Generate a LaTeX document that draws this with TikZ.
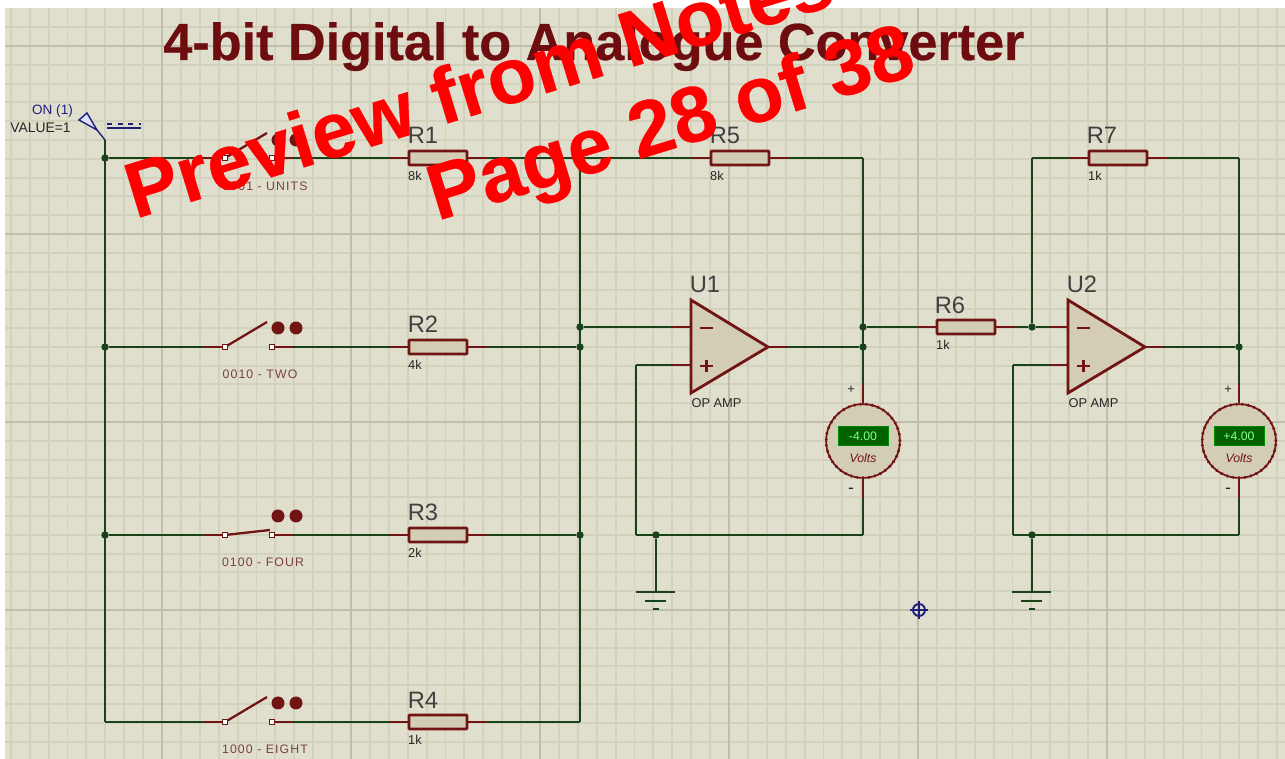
\documentclass[tikz,border=0pt]{standalone}
\usepackage{fontspec}
\setmainfont{Liberation Sans}
\definecolor{sheet}{HTML}{E0DFCE}
\definecolor{minorline}{HTML}{D2D1BC}
\definecolor{majorline}{HTML}{BFBEA9}
\definecolor{wirecol}{HTML}{17421A}
\definecolor{partcol}{HTML}{701414}
\definecolor{partfill}{HTML}{D3CDB5}
\definecolor{probecol}{HTML}{1F1F7A}
\definecolor{titlecol}{HTML}{6E0D10}
\tikzset{
  wire/.style={draw=wirecol,line width=1.4pt},
  pinline/.style={draw=partcol,line width=1.3pt},
  dot/.style={circle,fill=wirecol,inner sep=0pt,minimum size=4.2pt},
  corner/.style={inner sep=0pt,minimum size=0pt},
  resistor/.style={rectangle,draw=partcol,fill=partfill,line width=1.6pt,rounded corners=0.5pt,
    minimum width=33pt,minimum height=8pt,inner sep=0pt},
  contact/.style={rectangle,draw=partcol,fill=white,line width=0.5pt,inner sep=0pt,minimum size=2.4pt},
  lamp/.style={circle,fill=partcol,inner sep=0pt,minimum size=7.4pt},
  meter/.style={circle,draw=partcol,fill=partfill,line width=1pt,minimum size=42pt,inner sep=0pt,
    postaction={draw=partcol,line width=1.6pt,dash pattern=on 0.8pt off 2.6pt}},
  screen/.style={rectangle,fill=green!38!black,draw=green!55!black,line width=0.5pt,minimum width=28.5pt,
    minimum height=11pt,inner sep=0pt,text=green!45!white,font=\fontsize{7}{8}\selectfont},
  opamp/.style={draw=partcol,fill=partfill,line width=1.6pt,line join=miter},
  bigtext/.style={text=titlecol,font=\bfseries\addfontfeature{FakeBold=0.5}\fontsize{29.7}{32}\selectfont,inner sep=0pt,anchor=base west},
  stamp/.style={text=red,font=\bfseries\addfontfeature{FakeBold=0.4}\fontsize{44.8}{48}\selectfont,inner sep=0pt,anchor=base west,rotate=17},
  partname/.style={text=black!75,font=\fontsize{13.5}{15}\selectfont,inner sep=0pt},
  tinytext/.style={text=black!85,font=\fontsize{7.3}{8}\selectfont,inner sep=0pt},
  swlabel/.style={text=partcol!80!black!80,font=\addfontfeature{LetterSpace=9}\fontsize{7}{8}\selectfont,inner sep=0pt},
}
\begin{document}
\begin{tikzpicture}[x=0.02cm,y=-0.02cm]
  \clip (0,0) rectangle (1285,759);
  \fill[sheet] (5,8) rectangle (1285,759);
  \foreach \k in {0,...,67} {
    \draw[minorline,line width=1.1pt] ({10.8+18.9*\k},8) to ({10.8+18.9*\k},759);
  }
  \foreach \k in {0,...,39} {
    \draw[minorline,line width=1.1pt] (5,{27.2+18.8*\k}) to (1285,{27.2+18.8*\k});
  }
  \foreach \k in {0,...,6} {
    \draw[majorline,line width=1.2pt] ({162+189*\k},8) to ({162+189*\k},759);
  }
  \foreach \k in {0,...,3} {
    \draw[majorline,line width=1.2pt] (5,{46+188*\k}) to (1285,{46+188*\k});
  }
  % probe crosshair
  \draw[probecol,line width=1.1pt] (919,610) circle (6);
  \draw[probecol,line width=1.1pt] (910,610) to (928,610);
  \draw[probecol,line width=1.1pt] (919,601) to (919,619);
  % junctions and corners
  \draw
    (105,140) node[corner] (top){}
    (105,158) node[dot] (a1){}
    (105,347) node[dot] (a2){}
    (105,535) node[dot] (a3){}
    (105,722) node[corner] (a4){}
    (580,158) node[dot] (b1){}
    (580,327) node[dot] (b0){}
    (580,347) node[dot] (b2){}
    (580,535) node[dot] (b3){}
    (580,722) node[corner] (b4){}
    (863,158) node[corner] (c1){}
    (863,327) node[dot] (c2){}
    (863,347) node[dot] (c3){}
    (863,535) node[corner] (c4){}
    (636,535) node[corner] (d1){}
    (656,535) node[dot] (d2){}
    (636,365) node[corner] (d3){}
    (656,592) node[corner] (g1){}
    (1032,158) node[corner] (e1){}
    (1032,327) node[dot] (e2){}
    (1239,158) node[corner] (f1){}
    (1239,347) node[dot] (f2){}
    (1239,535) node[corner] (f3){}
    (1013,535) node[corner] (h1){}
    (1032,535) node[dot] (h2){}
    (1013,365) node[corner] (h3){}
    (1032,592) node[corner] (g2){}
    (691,327) node[corner] (u1m){}
    (691,365) node[corner] (u1p){}
    (768,347) node[corner] (u1o){}
    (1068,327) node[corner] (u2m){}
    (1068,365) node[corner] (u2p){}
    (1145,347) node[corner] (u2o){};
  % parts
  \draw
    (438,158) node[resistor] (R1){}
    (438,347) node[resistor] (R2){}
    (438,535) node[resistor] (R3){}
    (438,722) node[resistor] (R4){}
    (740,158) node[resistor] (R5){}
    (966,327) node[resistor] (R6){}
    (1118,158) node[resistor] (R7){}
    (225,158) node[contact] (s1a){}
    (225,347) node[contact] (s2a){}
    (225,535) node[contact] (s3a){}
    (225,722) node[contact] (s4a){}
    (272,158) node[contact] (s1b){}
    (272,347) node[contact] (s2b){}
    (272,535) node[contact] (s3b){}
    (272,722) node[contact] (s4b){}
    (863,441) node[meter] (V1){}
    (1239,441) node[meter] (V2){}
    (863,436) node[screen] (D1){-4.00}
    (1239,436) node[screen] (D2){+4.00};
  \begin{scope}[wire]
    \draw (top) to (a4);
    \draw (a1) to (s1a);
    \draw (a2) to (s2a);
    \draw (a3) to (s3a);
    \draw (a4) to (s4a);
    \draw (s1b) to (R1);
    \draw (s2b) to (R2);
    \draw (s3b) to (R3);
    \draw (s4b) to (R4);
    \draw (R1) to (b1);
    \draw (R2) to (b2);
    \draw (R3) to (b3);
    \draw (R4) to (b4);
    \draw (b1) to (b4);
    \draw (b1) to (R5);
    \draw (R5) to (c1);
    \draw (c1) to (V1);
    \draw (V1) to (c4);
    \draw (c4) to (d1);
    \draw (d1) to (d3);
    \draw (d3) to (u1p);
    \draw (d2) to (g1);
    \draw (b0) to (u1m);
    \draw (u1o) to (c3);
    \draw (c2) to (R6);
    \draw (R6) to (e2);
    \draw (e2) to (u2m);
    \draw (e1) to (e2);
    \draw (e1) to (R7);
    \draw (R7) to (f1);
    \draw (f1) to (V2);
    \draw (V2) to (f3);
    \draw (f3) to (h1);
    \draw (h1) to (h3);
    \draw (h3) to (u2p);
    \draw (h2) to (g2);
    \draw (u2o) to (f2);
  \end{scope}
  % red pins
  \foreach \n in {R1,R2,R3,R4,R5,R6,R7} {
    \draw[pinline] (\n.west) to ++(-19,0);
    \draw[pinline] (\n.east) to ++(19,0);
  }
  \foreach \n in {s1a,s2a,s3a,s4a} {
    \draw[pinline] (\n.west) to ++(-19,0);
  }
  \foreach \n in {s1b,s2b,s3b,s4b} {
    \draw[pinline] (\n.east) to ++(19,0);
  }
  \foreach \n in {u1m,u1p,u2m,u2p} {
    \draw[pinline] (\n) to ++(-19,0);
  }
  \foreach \n in {u1o,u2o} {
    \draw[pinline] (\n) to ++(19,0);
  }
  \foreach \n in {V1,V2} {
    \draw[pinline] (\n.north) to ++(0,-19);
    \draw[pinline] (\n.south) to ++(0,19);
  }
  % op amps
  \draw[opamp] (691,300) -- (u1o.center) -- (691,393) -- cycle;
  \draw[opamp] (1068,300) -- (u2o.center) -- (1068,393) -- cycle;
  \draw[pinline,line width=1.7pt] (700,328) to (713,328);
  \draw[pinline,line width=1.7pt] (700,366) to (713,366);
  \draw[pinline,line width=1.7pt] (706.5,360) to (706.5,372);
  \draw[pinline,line width=1.7pt] (1077,328) to (1090,328);
  \draw[pinline,line width=1.7pt] (1077,366) to (1090,366);
  \draw[pinline,line width=1.7pt] (1083.5,360) to (1083.5,372);
  % switch arms and lamps
  \draw[pinline] (s1a) to (267,133);
  \draw[pinline] (s2a) to (267,322);
  \draw[pinline] (s3a) to (270,530);
  \draw[pinline] (s4a) to (267,697);
  \foreach \r in {140,328,516,703} {
    \node[lamp] at (278,\r) {};
    \node[lamp] at (296,\r) {};
  }
  % grounds
  \draw[wire] (636,592) to (675,592);
  \draw[wire] (645,601) to (666,601);
  \draw[wire] (653,609) to (659,609);
  \draw[wire] (1012,592) to (1051,592);
  \draw[wire] (1021,601) to (1042,601);
  \draw[wire] (1029,609) to (1035,609);
  % generator
  \draw[probecol,line width=0.8pt,fill=blue!12] (87,113) -- (79,120) -- (97,130) -- cycle;
  \draw[probecol,line width=0.8pt] (97,130) -- (top.center);
  \draw[probecol,line width=0.8pt,dashed] (107,124) to (141,124);
  \draw[probecol,line width=0.8pt] (107,128) to (141,128);
  \node[text=probecol,font=\fontsize{7.7}{8}\selectfont,inner sep=0pt] (gen) at (52.5,111) {ON (1)};
  \node[text=black!85,font=\fontsize{7.9}{8}\selectfont,inner sep=0pt] (val) at (40.5,128) {VALUE=1};
  % labels
  \draw
    (423,135) node[partname] (l1){R1}
    (423,324) node[partname] (l2){R2}
    (423,512) node[partname] (l3){R3}
    (423,700) node[partname] (l4){R4}
    (725,135) node[partname] (l5){R5}
    (950,305) node[partname] (l6){R6}
    (1102,135) node[partname] (l7){R7}
    (705,284) node[partname] (u1){U1}
    (1082,284) node[partname] (u2){U2}
    (415,176) node[tinytext] (v1){8k}
    (415,365) node[tinytext] (v2){4k}
    (415,553) node[tinytext] (v3){2k}
    (415,740) node[tinytext] (v4){1k}
    (717,176) node[tinytext] (v5){8k}
    (943,345) node[tinytext] (v6){1k}
    (1095,176) node[tinytext] (v7){1k}
    (716.5,403) node[tinytext] (o1){OP AMP}
    (1093.5,403) node[tinytext] (o2){OP AMP}
    (851,390) node[tinytext] (p1){+}
    (851,491) node[tinytext,font=\fontsize{10}{10}\selectfont] (m1){-}
    (1228,390) node[tinytext] (p2){+}
    (1228,491) node[tinytext,font=\fontsize{10}{10}\selectfont] (m2){-}
    (265,186) node[swlabel] (w1){0001 - UNITS}
    (260,374) node[swlabel] (w2){0010 - TWO}
    (263,562) node[swlabel] (w3){0100 - FOUR}
    (265,749) node[swlabel] (w4){1000 - EIGHT}
    (863,458) node[tinytext,text=partcol,font=\itshape\fontsize{7}{8}\selectfont] (t1){Volts}
    (1239,458) node[tinytext,text=partcol,font=\itshape\fontsize{7}{8}\selectfont] (t2){Volts};
  % title and stamp
  \node[bigtext] (title) at (163,60) {4-bit Digital to Analogue Converter};
  \node[stamp] (st1) at (135,219) {Preview from Notes};
  \node[stamp] (st2) at (437,221) {Page 28 of 38};
\end{tikzpicture}
\end{document}
